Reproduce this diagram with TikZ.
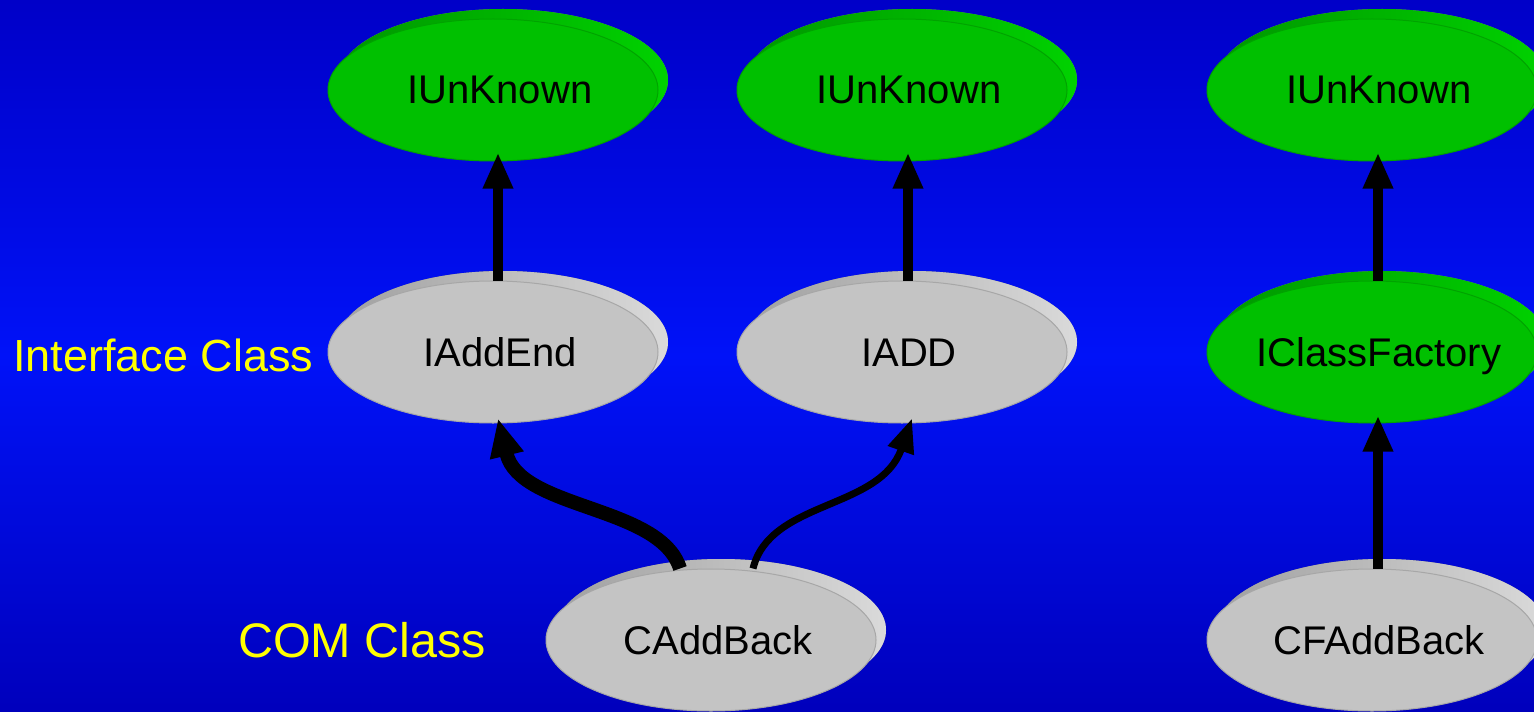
\documentclass[tikz,border=0pt]{standalone}
\usepackage{fontspec}
\setmainfont{Liberation Sans}
\usetikzlibrary{shapes.geometric,arrows.meta,shadows,calc}
\definecolor{bgtop}{RGB}{0,0,200}
\definecolor{bgmid}{RGB}{0,18,248}
\definecolor{bgbot}{RGB}{0,0,188}
\definecolor{faceG}{RGB}{0,192,0}
\definecolor{sideGd}{RGB}{0,150,0}
\definecolor{sideGl}{RGB}{0,210,0}
\definecolor{faceS}{RGB}{196,196,196}
\definecolor{sideSd}{RGB}{160,160,160}
\definecolor{sideSl}{RGB}{218,218,218}
\definecolor{lblyellow}{RGB}{255,255,0}
\newcommand\disktext[1]{\makebox[0pt][c]{\hspace*{14bp}\raisebox{-14bp}[0pt][0pt]{#1}}}
\begin{document}
\begin{tikzpicture}[x=1bp,y=-1bp,
  disk/.style={ellipse, minimum width=330bp, minimum height=142bp, inner sep=0pt,
    font=\fontsize{40bp}{48bp}\selectfont, text=black, line width=1bp},
  greendisk/.style={disk, fill=faceG, draw=faceG!85!black,
    drop shadow={shadow xshift=10bp, shadow yshift=10bp, opacity=1,
      left color=sideGd, right color=sideGl, draw=none}},
  graydisk/.style={disk, fill=faceS, draw=faceS!85!black,
    drop shadow={shadow xshift=10bp, shadow yshift=10bp, opacity=1,
      left color=sideSd, right color=sideSl, draw=none}},
  arr/.style={line width=10bp, -{Triangle[length=36bp,width=28bp]}},
  arrthick/.style={line width=14bp, -{Triangle[length=38bp,width=32bp]}},
  arrthin/.style={line width=7bp, -{Triangle[length=34bp,width=26bp]}},
  lbl/.style={text=lblyellow, anchor=west, inner sep=0pt}]
\useasboundingbox (0,0) rectangle (1534,712);
\shade[top color=bgtop, bottom color=bgbot, middle color=bgmid] (0,0) rectangle (1534,712);

\node[greendisk] (u1) at (493,90) {\disktext{IUnKnown}};
\node[greendisk] (u2) at (902,90) {\disktext{IUnKnown}};
\node[greendisk] (u3) at (1372,90) {\disktext{IUnKnown}};
\node[graydisk] (iaddend) at (493,352) {\disktext{IAddEnd}};
\node[graydisk] (iadd) at (902,352) {\disktext{IADD}};
\node[greendisk] (icf) at (1372,352) {\disktext{IClassFactory}};
\node[graydisk] (cab) at (711,640) {\disktext{CAddBack}};
\node[graydisk] (cfab) at (1372,640) {\disktext{CFAddBack}};

\node[lbl, font=\fontsize{45bp}{53bp}\selectfont] (lif) at (13,355) {Interface Class};
\node[lbl, font=\fontsize{48.5bp}{56bp}\selectfont] (lcom) at (238,640) {COM Class};

\draw[arr] ([xshift=5bp]iaddend.north) -- ([xshift=5bp,yshift=9bp]u1.south);
\draw[arr] ([xshift=6bp]iadd.north) -- ([xshift=6bp,yshift=9bp]u2.south);
\draw[arr] ([xshift=6bp]icf.north) -- ([xshift=6bp,yshift=9bp]u3.south);
\draw[arr] ([xshift=6bp]cfab.north) -- ([xshift=6bp,yshift=8bp]icf.south);

\draw[arrthick] ([xshift=-31bp]cab.north) .. controls (660,505) and (520,510) .. ([xshift=5bp,yshift=5bp]iaddend.south);
\draw[arrthin] ([xshift=42bp]cab.north) .. controls (770,500) and (880,510) .. ([xshift=10bp,yshift=5bp]iadd.south);
\end{tikzpicture}
\end{document}
